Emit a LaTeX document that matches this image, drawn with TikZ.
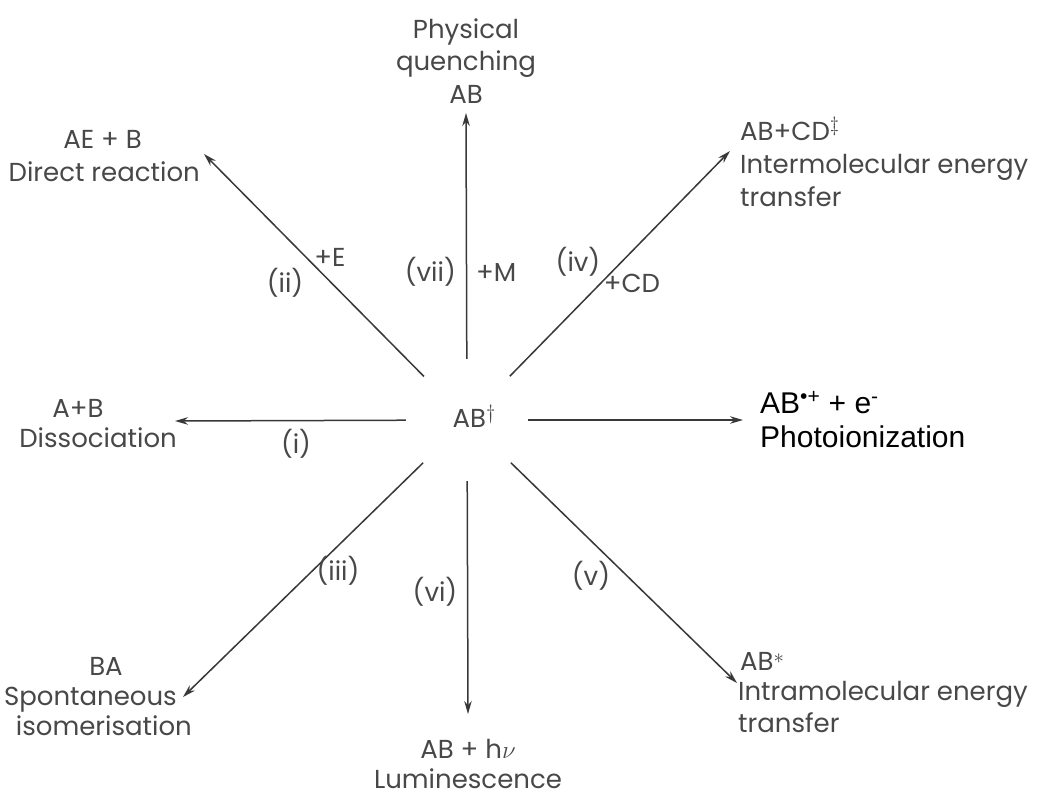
\documentclass[tikz,border=0pt]{standalone}
\usepackage{fontspec}
\setmainfont{Poppins}
\newfontfamily\arialf{Liberation Sans}
\usetikzlibrary{arrows.meta}
\definecolor{ink}{HTML}{484848}
\definecolor{lineink}{HTML}{383838}
\newcommand{\supmark}[2]{\raisebox{#1}{\fontsize{22}{22}\selectfont$#2$}}
\begin{document}
\begin{tikzpicture}[x=1pt,y=-1pt,
  every node/.style={text=ink, font=\fontsize{26}{32}\selectfont, inner sep=0pt},
  arr/.style={draw=lineink, line width=1.5pt, -{Stealth[length=13pt,width=7.5pt]}},
  ph/.style={text=black, font=\arialf\fontsize{30}{34}\selectfont}]
\useasboundingbox (0,0) rectangle (1041,796);
\fill[white] (0,0) rectangle (1041,796);

% centre
\node[circle, minimum size=122pt] (c) at (467,420) {};
\node (ab) at (474,416) {AB\supmark{8pt}{\dagger}};

% tips
\coordinate (tvii) at (466,113);
\coordinate (tii)  at (204,154);
\coordinate (tiv)  at (730,151);
\coordinate (ti)   at (175,421);
\coordinate (tp)   at (743,420);
\coordinate (tiii) at (183,697);
\coordinate (tvi)  at (468,714);
\coordinate (tv)   at (737,683);

\draw[arr] (c) -- (tvii);
\draw[arr] (c) -- (tii);
\draw[arr] (c) -- (tiv);
\draw[arr] (c) -- (ti);
\draw[arr] (c) -- (tp);
\draw[arr] (c) -- (tiii);
\draw[arr] (c) -- (tvi);
\draw[arr] (c) -- (tv);

% top
\node[anchor=base] (phys1) at (466,38) {Physical};
\node[anchor=base] (phys2) at (466,70) {quenching};
\node[anchor=base] (phys3) at (466,103) {AB};
\node[anchor=base east] (lvii) at (456,281) {(vii)};
\node[anchor=base west] (lM) at (476,281) {+M};

% upper left
\node[anchor=base east] (ae1) at (142,148) {AE + B};
\node[anchor=base east] (ae2) at (200,181) {Direct reaction};
\node (lE) at (330,257) {+E};
\node (lii) at (285,283) {(ii)};

% upper right
\node[anchor=base west] (cd1) at (740,140) {AB+CD\supmark{9pt}{\ddagger}};
\node[anchor=base west] (cd2) at (740,173) {Intermolecular energy};
\node[anchor=base west] (cd3) at (740,206) {transfer};
\node (liv) at (578,262) {(iv)};
\node (lCD) at (632,283) {+CD};

% left
\node[anchor=base] (dis1) at (78,417) {A+B};
\node[anchor=base east] (dis2) at (177,447) {Dissociation};
\node (li) at (296,444) {(i)};

% right
\node[ph, anchor=base west] (pi1) at (760,413) {AB\textsuperscript{•+} + e\textsuperscript{-}};
\node[ph, anchor=base west] (pi2) at (760,447) {Photoionization};

% lower left
\node[anchor=base] (ba1) at (106,675) {BA};
\node[anchor=base east] (ba2) at (177,705) {Spontaneous};
\node[anchor=base east] (ba3) at (192,735) {isomerisation};
\node (liii) at (338,571) {(iii)};

% bottom
\node (lvi) at (435,592) {(vi)};
\node[anchor=base] (lu1) at (468,758) {AB + h$\nu$};
\node[anchor=base] (lu2) at (468,788) {Luminescence};

% lower right
\node (lv) at (591,576) {(v)};
\node[anchor=base west] (st1) at (740,670) {AB\supmark{7pt}{*}};
\node[anchor=base west] (st2) at (738,700) {Intramolecular energy};
\node[anchor=base west] (st3) at (738,732) {transfer};
\end{tikzpicture}
\end{document}
